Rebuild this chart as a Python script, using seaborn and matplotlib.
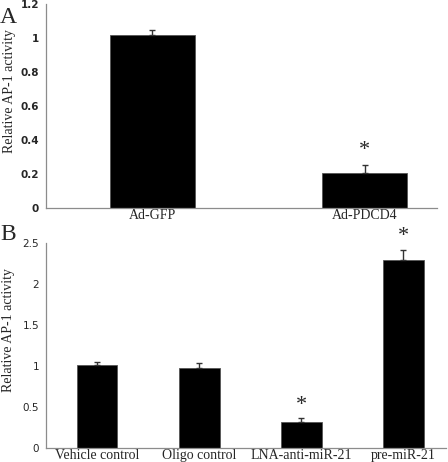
import numpy as np
import pandas as pd
import matplotlib
matplotlib.use("Agg")
import matplotlib.pyplot as plt
import seaborn as sns

# Panel A data
groups_a = ["Ad-GFP", "Ad-PDCD4"]
values_a = [1.02, 0.206]
errors_a = [0.03, 0.045]
stars_a = [False, True]

# Panel B data
groups_b = ["Vehicle control", "Oligo control", "LNA-anti-miR-21", "pre-miR-21"]
values_b = [1.01, 0.975, 0.325, 2.30]
errors_b = [0.04, 0.06, 0.04, 0.12]
stars_b = [False, False, True, True]

sns.set_style("white")
serif = ["Liberation Serif", "DejaVu Serif"]
grey = "#8c8c8c"


def draw_panel(ax, groups, values, errors, stars, ymax, ystep, xright, star_off, tick_bold):
    df = pd.DataFrame({"group": groups, "value": values})
    sns.barplot(data=df, x="group", y="value", color="black", width=0.4,
                edgecolor="#555555", linewidth=0.6, errorbar=None, ax=ax,
                saturation=1)
    x = np.arange(len(groups))
    ax.errorbar(x, values, yerr=[np.zeros(len(errors)), errors], fmt="none",
                ecolor="#333333", elinewidth=1.0, capsize=2.5, capthick=1.0)
    for xi, v, e, s in zip(x, values, errors, stars):
        if s:
            ax.text(xi, v + e + star_off, "*", ha="center", va="center",
                    fontsize=16, family=serif)
    ax.set_xlim(-0.5, xright)
    ax.set_ylim(0, ymax)
    ticks = np.arange(0, ymax + 1e-9, ystep)
    ax.set_yticks(ticks)
    ax.set_yticklabels([f"{t:g}" for t in ticks], fontsize=7.5,
                       fontweight="bold" if tick_bold else "normal",
                       family="DejaVu Sans")
    ax.set_xticks(x)
    ax.set_xticklabels(groups, fontsize=10, family=serif)
    ax.set_xlabel("")
    ax.set_ylabel("Relative AP-1 activity", fontsize=10, family=serif)
    ax.yaxis.set_label_coords(-0.077, 0.575)
    for side in ["top", "right"]:
        ax.spines[side].set_visible(False)
    for side in ["left", "bottom"]:
        ax.spines[side].set_color(grey)
        ax.spines[side].set_linewidth(0.9)
    ax.tick_params(axis="y", direction="out", length=3, width=0.8, color=grey, pad=2)
    ax.tick_params(axis="x", length=0, pad=0.5)


fig = plt.figure(figsize=(4.48, 4.62), dpi=100)
ax_a = fig.add_axes([0.1027, 0.5498, 0.873, 0.4405])
ax_b = fig.add_axes([0.1027, 0.0297, 0.893, 0.4437])

draw_panel(ax_a, groups_a, values_a, errors_a, stars_a, 1.2, 0.2, 1.34, 0.09, True)
draw_panel(ax_b, groups_b, values_b, errors_b, stars_b, 2.5, 0.5, 3.42, 0.16, False)

fig.text(0.0, 0.985, "A", fontsize=17, family=serif, va="top", ha="left")
fig.text(0.0, 0.515, "B", fontsize=17, family=serif, va="top", ha="left")

fig.savefig("out.png", dpi=100)
